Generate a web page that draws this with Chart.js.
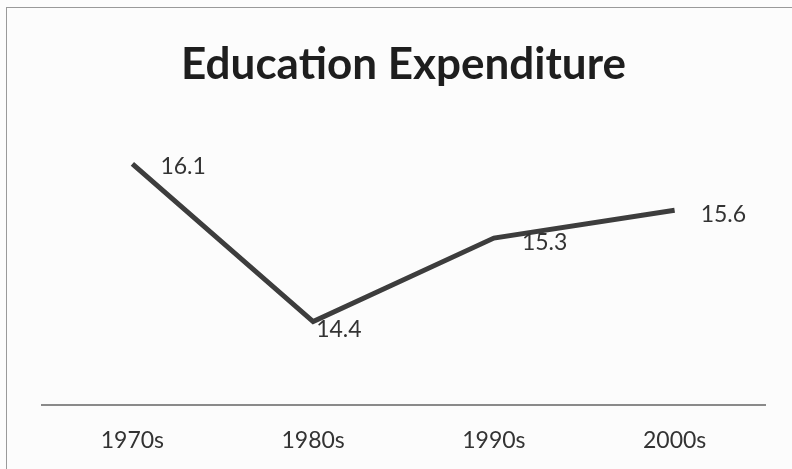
<!DOCTYPE html>
<html>
<head>
  <script src="https://cdn.jsdelivr.net/npm/chart.js@4/dist/chart.umd.min.js"></script>
  <style>
    body { margin: 0; background: #fcfcfc; }
    #wrap { position: relative; width: 792px; height: 469px; overflow: hidden; }
    #frame { position: absolute; left: 6px; top: 7px; width: 800px; height: 480px;
             border: 1px solid #9a9a9a; pointer-events: none; }
  </style>
  <script>
    var decades = ['1970s', '1980s', '1990s', '2000s'];
    var expenditure = [16.1, 14.4, 15.3, 15.6];
    var valueLabels = ['16.1', '14.4', '15.3', '15.6'];

    // writes each value just to the right of its point
    var pointLabels = {
      id: 'pointLabels',
      afterDatasetsDraw: function (chart, args, opts) {
        var ctx = chart.ctx;
        var meta = chart.getDatasetMeta(0);
        ctx.save();
        ctx.font = '23px Lato, "Open Sans", sans-serif';
        ctx.fillStyle = '#333';
        ctx.textAlign = 'left';
        ctx.textBaseline = 'middle';
        meta.data.forEach(function (pt, i) {
          var off = opts.offsets[i];
          ctx.fillText(valueLabels[i], pt.x + off[0], pt.y + off[1]);
        });
        ctx.restore();
      }
    };

    function drawGraph(canvasId) {
      var ctx = document.getElementById(canvasId).getContext('2d');
      new Chart(ctx, {
        type: 'line',
        data: {
          labels: decades,
          datasets: [{
            label: 'Education Expenditure',
            data: expenditure,
            borderColor: '#3d3d3d',
            borderWidth: 5,
            pointRadius: 0,
            tension: 0,
            fill: false
          }]
        },
        options: {
          animation: false,
          responsive: false,
          layout: { padding: { left: 42, right: 27, top: 0, bottom: 16 } },
          plugins: {
            legend: { display: false },
            tooltip: { enabled: false },
            title: {
              display: true,
              text: 'Education Expenditure',
              color: '#1e1e1e',
              font: { family: 'Lato, "Open Sans", sans-serif', size: 44, weight: 'bold', lineHeight: 1.2 },
              padding: { top: 38, bottom: 36 }
            },
            pointLabels: {
              offsets: [[28, 3], [3, 8], [28, 4], [26, 4]]
            }
          },
          scales: {
            x: {
              offset: true,
              grid: { display: false, drawTicks: false },
              border: { color: '#8a8a8a', width: 2 },
              ticks: {
                color: '#333',
                padding: 22,
                font: { family: 'Lato, "Open Sans", sans-serif', size: 23, lineHeight: 1.2 }
              },
              afterFit: function (scale) { scale.height = 48; }
            },
            y: {
              display: false,
              min: 13.5,
              max: 16.5
            }
          }
        },
        plugins: [pointLabels]
      });
    }

    window.onload = function () {
      drawGraph('expenditure_chart');
    };
  </script>
</head>
<body>
  <div id="wrap">
    <canvas id="expenditure_chart" width="792" height="469"></canvas>
    <div id="frame"></div>
  </div>
</body>
</html>
